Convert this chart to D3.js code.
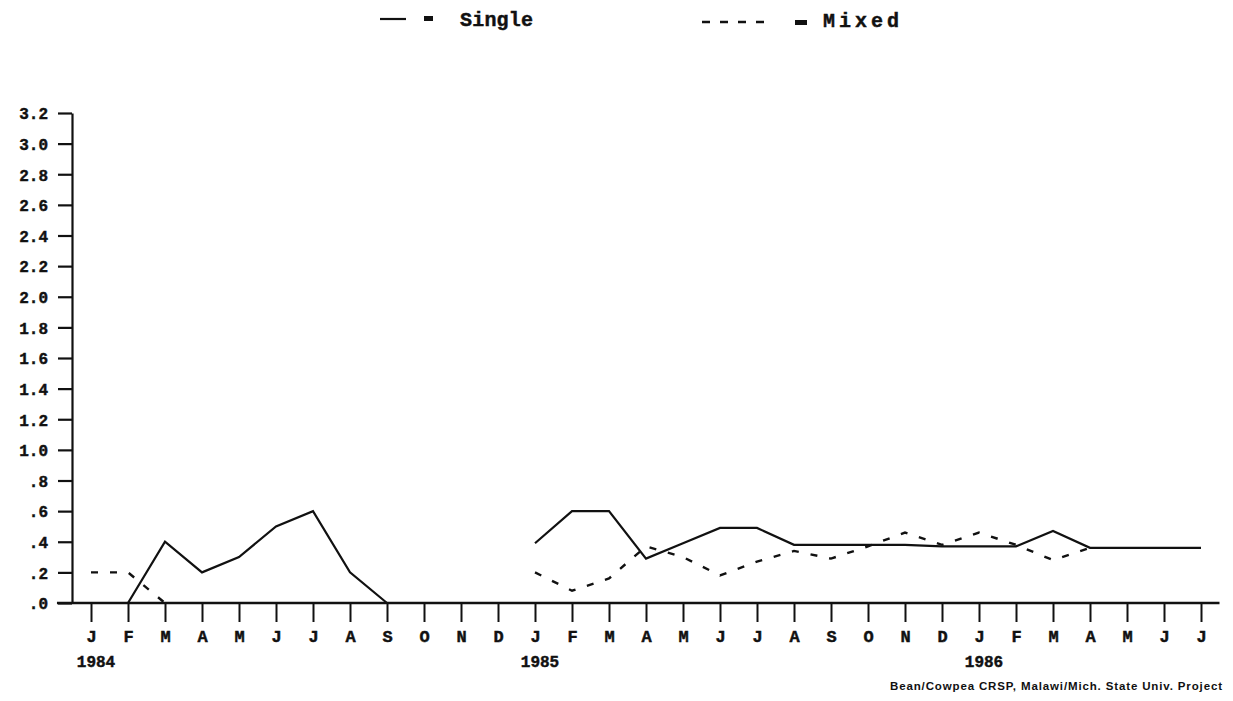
<!DOCTYPE html>
<html>
<head>
<meta charset="utf-8">
<script src="https://cdn.jsdelivr.net/npm/d3@7"></script>
<style>
  html, body { margin: 0; padding: 0; background: #fff; }
  svg { display: block; }
  .mono { font-family: "Liberation Mono", "DejaVu Sans Mono", monospace; font-weight: bold; fill: #111; stroke: #111; stroke-width: 0.45px; }
</style>
</head>
<body>
<svg id="chart" width="1233" height="701"></svg>
<script>
// Months from January 1984 to July 1986 (index 0..30)
const months = ["J","F","M","A","M","J","J","A","S","O","N","D",
                "J","F","M","A","M","J","J","A","S","O","N","D",
                "J","F","M","A","M","J","J"];
const years = [{ index: 0, label: "1984" }, { index: 12, label: "1985" }, { index: 24, label: "1986" }];

// Y axis ticks and their printed labels
const yTicks = [3.2, 3.0, 2.8, 2.6, 2.4, 2.2, 2.0, 1.8, 1.6, 1.4, 1.2, 1.0, 0.8, 0.6, 0.4, 0.2, 0.0];
const yTickLabels = ["3.2","3.0","2.8","2.6","2.4","2.2","2.0","1.8","1.6","1.4","1.2","1.0",".8",".6",".4",".2",".0"];

// Monthly values per series (null = no observation)
const single = [
  null, 0.0, 0.4, 0.2, 0.3, 0.5, 0.6, 0.2, 0.0, null, null, null,
  0.39, 0.6, 0.6, 0.29, 0.39, 0.49, 0.49, 0.38, 0.38, 0.38, 0.38, 0.37,
  0.37, 0.37, 0.47, 0.36, 0.36, 0.36, 0.36
];
const mixed = [
  0.2, 0.2, 0.0, null, null, null, null, null, null, null, null, null,
  0.2, 0.08, 0.16, 0.37, 0.3, 0.18, 0.27, 0.34, 0.29, 0.37, 0.46, 0.38,
  0.46, 0.38, 0.28, 0.36, null, null, null
];

const svg = d3.select("#chart");

const x = d3.scaleLinear().domain([0, 30]).range([91, 1201]);
const y = d3.scaleLinear().domain([0, 3.2]).range([603, 113]);

// Y axis
const yAxis = d3.axisLeft(y)
  .tickValues(yTicks)
  .tickFormat((d, i) => yTickLabels[i])
  .tickSize(14)
  .tickSizeOuter(0)
  .tickPadding(10);
const gy = svg.append("g").attr("transform", "translate(72,0)").call(yAxis);
gy.select(".domain").attr("stroke", "#111").attr("stroke-width", 2.2);
gy.selectAll(".tick line").attr("stroke", "#111").attr("stroke-width", 2.2);
gy.selectAll(".tick text").attr("class", "mono").attr("font-size", 16).attr("dy", "0.36em");

// X axis
svg.append("line")
  .attr("x1", x(-0.92)).attr("x2", x(30.5))
  .attr("y1", y(0)).attr("y2", y(0))
  .attr("stroke", "#111").attr("stroke-width", 2.4);

const xAxis = d3.axisBottom(x)
  .tickValues(d3.range(months.length))
  .tickFormat(i => months[i])
  .tickSize(19)
  .tickSizeOuter(0)
  .tickPadding(8);
const gx = svg.append("g").attr("transform", `translate(0,${y(0)})`).call(xAxis);
gx.select(".domain").remove();
gx.selectAll(".tick line").attr("stroke", "#111").attr("stroke-width", 2);
gx.selectAll(".tick text").attr("class", "mono").attr("font-size", 17);

svg.selectAll("text.year")
  .data(years)
  .join("text")
  .attr("class", "mono year")
  .attr("x", d => x(d.index) + 5)
  .attr("y", 667)
  .attr("text-anchor", "middle")
  .attr("font-size", 16)
  .text(d => d.label);

// Series lines
const line = d3.line()
  .defined(d => d != null)
  .x((d, i) => x(i))
  .y(d => y(d));

svg.append("path")
  .datum(mixed)
  .attr("d", line)
  .attr("fill", "none")
  .attr("stroke", "#111")
  .attr("stroke-width", 2.4)
  .attr("stroke-dasharray", "7,12");

svg.append("path")
  .datum(single)
  .attr("d", line)
  .attr("fill", "none")
  .attr("stroke", "#111")
  .attr("stroke-width", 2.2)
  .attr("stroke-linejoin", "miter");

// Legend
const legend = svg.append("g");
legend.append("line")
  .attr("x1", 380).attr("x2", 406).attr("y1", 19).attr("y2", 19)
  .attr("stroke", "#111").attr("stroke-width", 2.2);
legend.append("rect").attr("x", 424).attr("y", 16).attr("width", 9).attr("height", 5).attr("fill", "#111");
legend.append("text").attr("class", "mono").attr("x", 460).attr("y", 26)
  .attr("font-size", 20).attr("textLength", 73).attr("lengthAdjust", "spacing").text("Single");

legend.append("line")
  .attr("x1", 702).attr("x2", 764).attr("y1", 22).attr("y2", 22)
  .attr("stroke", "#111").attr("stroke-width", 2.6).attr("stroke-dasharray", "8,10");
legend.append("rect").attr("x", 795).attr("y", 20).attr("width", 12).attr("height", 5).attr("fill", "#111");
legend.append("text").attr("class", "mono").attr("x", 823).attr("y", 27)
  .attr("font-size", 20).attr("textLength", 76).attr("lengthAdjust", "spacing").text("Mixed");

// Source note
svg.append("text")
  .attr("x", 1222).attr("y", 690)
  .attr("text-anchor", "end")
  .attr("font-family", "Liberation Sans, Arial, sans-serif")
  .attr("font-weight", "bold")
  .attr("font-size", 11.5)
  .attr("fill", "#111")
  .attr("textLength", 332)
  .attr("lengthAdjust", "spacing")
  .text("Bean/Cowpea CRSP, Malawi/Mich. State Univ. Project");
</script>
</body>
</html>
